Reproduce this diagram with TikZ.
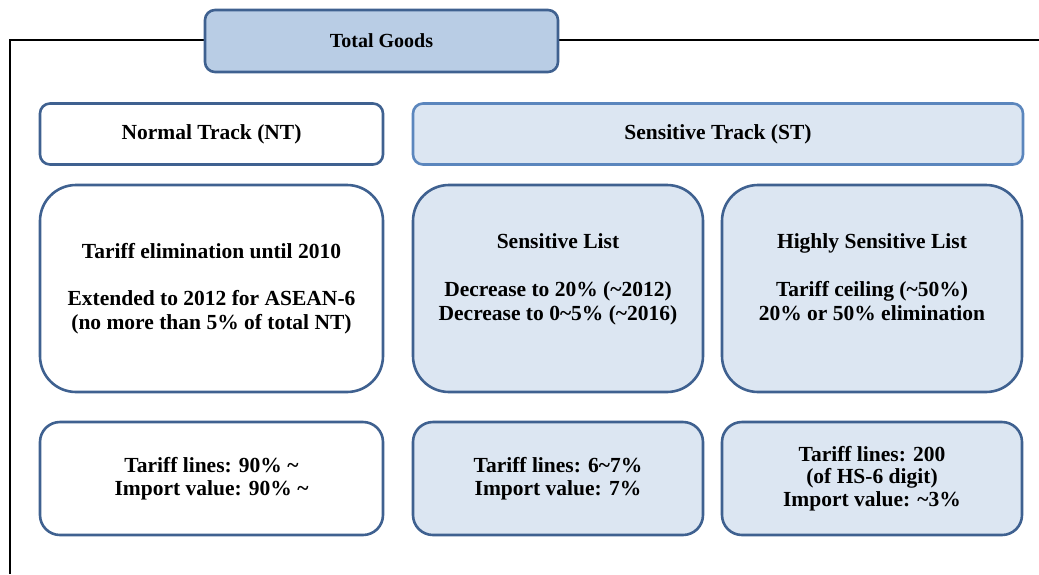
\documentclass[tikz,border=0pt]{standalone}
\usepackage{fontspec}
\setmainfont{Liberation Serif}
\usepackage{tikz}
\usetikzlibrary{calc}

\definecolor{goodsfill}{HTML}{B9CDE5}
\definecolor{stfill}{HTML}{DCE6F2}
\definecolor{boxline}{HTML}{3F6190}
\definecolor{stline}{HTML}{5B86BD}
\newcommand{\tld}{\char`~}

\tikzset{
  box/.style={draw=boxline, line width=2.6pt, align=center, inner sep=0pt,
    font=\bfseries\fontsize{21.5}{23.5}\selectfont},
  headbox/.style={box, rounded corners=10pt, minimum height=61pt},
  listbox/.style={box, rounded corners=36pt, minimum height=207pt},
  sharebox/.style={box, rounded corners=20pt, minimum height=113pt},
  frame/.style={line width=2.8pt, black}
}

\begin{document}
\begin{tikzpicture}[x=1pt,y=-1pt]
        \useasboundingbox (0,0) rectangle (1039,574);

        \draw[frame] (558,40) -- (1039,40);
        \draw[frame] (205,40) -- (10,40) -- (10,574);

        \node[headbox, fill=goodsfill, minimum width=353pt, minimum height=62pt,
              font=\bfseries\fontsize{20}{22}\selectfont] (tg) at (381.5,41) {Total Goods};

        \node[headbox, fill=white, minimum width=343pt] (nt) at (211.5,134) {Normal Track (NT)};
        \node[headbox, fill=stfill, draw=stline, minimum width=610pt] (st) at (718,134) {Sensitive Track (ST)};

        \node[listbox, fill=white, minimum width=343pt] (ntlist) at (211.5,288.5)
            {Tariff elimination until 2010\\[23.5pt] Extended to 2012 for ASEAN-6\\ (no more than 5\% of total NT)};
        \node[listbox, fill=stfill, minimum width=290pt] (sl) at (558,288.5)
            {Sensitive List\\[25pt] Decrease to 20\% (\tld2012)\\ Decrease to 0\tld5\% (\tld2016)\\[0pt]};
        \node[listbox, fill=stfill, minimum width=300pt] (hsl) at (872,288.5)
            {Highly Sensitive List\\[25pt] Tariff ceiling (\tld50\%)\\ 20\% or 50\% elimination\\[0pt]};

        \node[sharebox, fill=white, minimum width=343pt] (ntshare) at (211.5,478.5)
            {Tariff lines: 90\% \tld\\ Import value: 90\% \tld};
        \node[sharebox, fill=stfill, minimum width=290pt] (slshare) at (558,478.5)
            {Tariff lines: 6\tld7\%\\ Import value: 7\%};
        \node[sharebox, fill=stfill, minimum width=300pt, font=\bfseries\fontsize{21.5}{22.5}\selectfont] (hslshare) at (872,478.5)
            {Tariff lines: 200\\ (of HS-6 digit)\\ Import value: \tld3\%};
    \end{tikzpicture}
\end{document}
